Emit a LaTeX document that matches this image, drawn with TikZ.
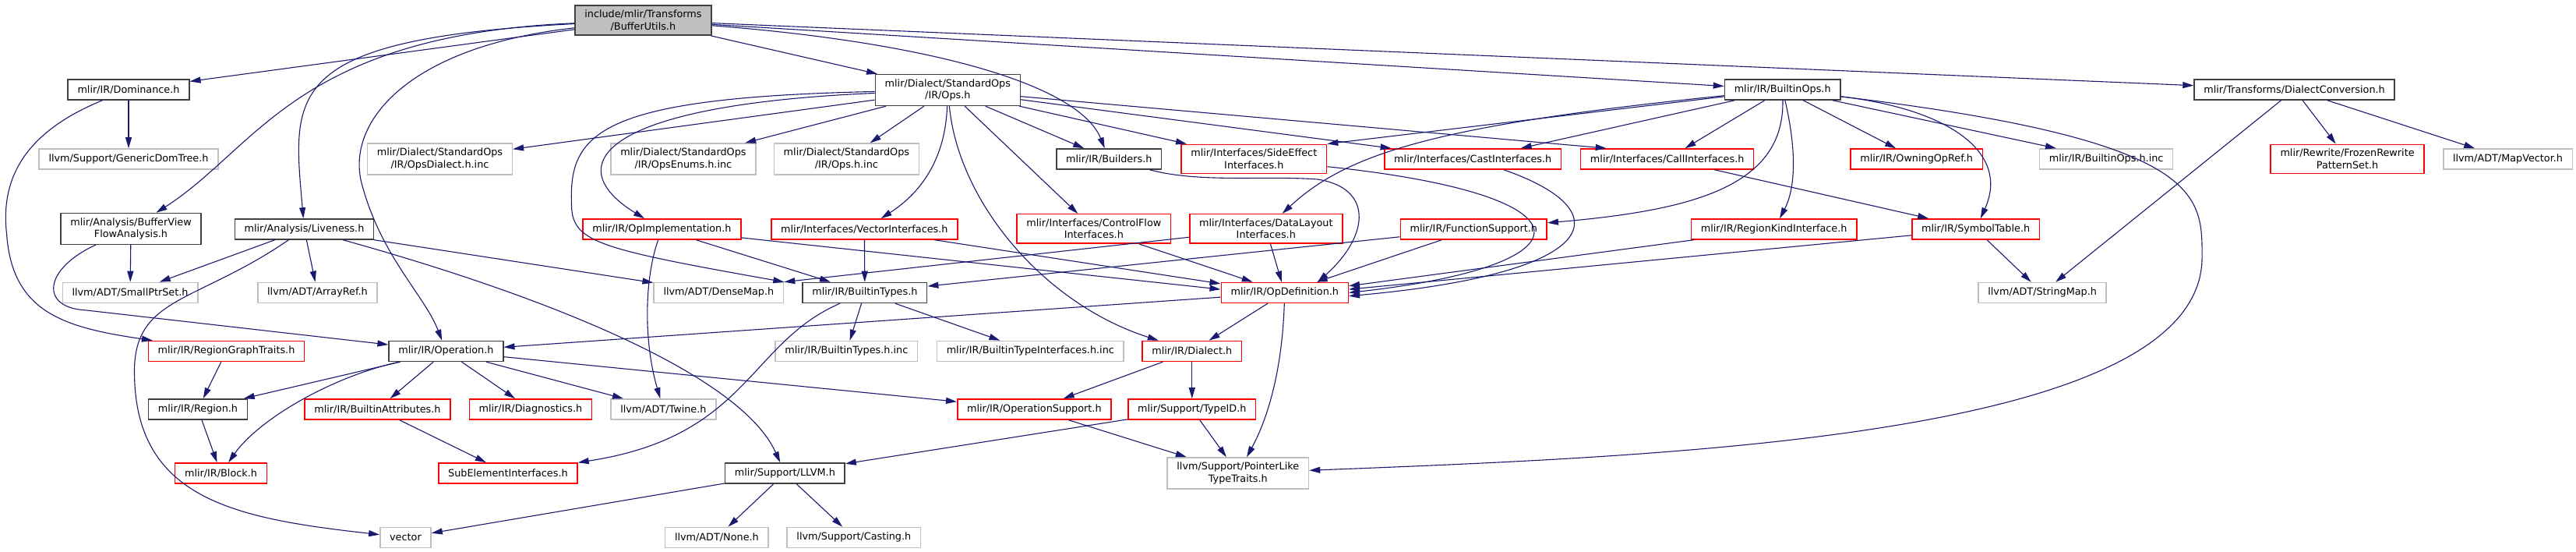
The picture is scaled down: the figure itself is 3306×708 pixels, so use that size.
\documentclass[tikz,border=0pt]{standalone}
\usepackage{fontspec}
\setmainfont{DejaVu Sans}
\usepackage{tikz}
\usetikzlibrary{arrows.meta}
\definecolor{edgeblue}{RGB}{25,25,112}
\definecolor{rootgray}{RGB}{191,191,191}
\definecolor{lightframe}{RGB}{191,191,191}
\definecolor{darkframe}{RGB}{64,64,64}

\begin{document}
\begin{tikzpicture}[x=1pt, y=-1pt,
  every node/.style={font=\fontsize{12.8}{15.5}\selectfont},
  hdr/.style={draw, rectangle, fill=white, align=center, inner xsep=12.3pt, inner ysep=6pt, minimum height=26pt, line width=1.5pt},
  hdrroot/.style={hdr, fill=rootgray, draw=darkframe},
  hdrblack/.style={hdr, draw=darkframe},
  hdrred/.style={hdr, draw=red},
  hdrgray/.style={hdr, draw=lightframe},
  conn/.style={-{Triangle[length=14pt, width=8pt]}, draw=edgeblue, line width=1.1pt}
]
\fill[white] (0,0) rectangle (3306,708);

% Root
\node[hdrroot] (bufutils) at (825,26) {include/mlir/Transforms\\/BufferUtils.h};

% Rank 1
\node[hdrblack] (dominance) at (164.5,115) {mlir/IR/Dominance.h};
\node[hdrblack] (stdops) at (1216,115.5) {mlir/Dialect/StandardOps\\/IR/Ops.h};
\node[hdrblack] (builtinops) at (2287.5,115) {mlir/IR/BuiltinOps.h};
\node[hdrblack] (dialconv) at (2944.5,115) {mlir/Transforms/DialectConversion.h};

% Rank 2
\node[hdrgray] (domtree) at (164.5,204) {llvm/Support/GenericDomTree.h};
\node[hdrgray] (opsdialect) at (564,204) {mlir/Dialect/StandardOps\\/IR/OpsDialect.h.inc};
\node[hdrgray] (opsenums) at (876.5,204) {mlir/Dialect/StandardOps\\/IR/OpsEnums.h.inc};
\node[hdrgray] (opsinc) at (1086,204) {mlir/Dialect/StandardOps\\/IR/Ops.h.inc};
\node[hdrblack] (builders) at (1423,204) {mlir/IR/Builders.h};
\node[hdrred] (sideeffect) at (1609,204) {mlir/Interfaces/SideEffect\\Interfaces.h};
\node[hdrred] (castif) at (1890,204) {mlir/Interfaces/CastInterfaces.h};
\node[hdrred] (callif) at (2139.5,204) {mlir/Interfaces/CallInterfaces.h};
\node[hdrred] (owningref) at (2459.5,204) {mlir/IR/OwningOpRef.h};
\node[hdrgray] (builtinopsinc) at (2703,204) {mlir/IR/BuiltinOps.h.inc};
\node[hdrred] (frozen) at (3012.5,204) {mlir/Rewrite/FrozenRewrite\\PatternSet.h};
\node[hdrgray] (mapvector) at (3218.5,204) {llvm/ADT/MapVector.h};

% Rank 3
\node[hdrblack] (bvfa) at (167.5,293.5) {mlir/Analysis/BufferView\\FlowAnalysis.h};
\node[hdrblack] (liveness) at (390,294) {mlir/Analysis/Liveness.h};
\node[hdrred] (opimpl) at (849,294) {mlir/IR/OpImplementation.h};
\node[hdrred] (vectorif) at (1109,294) {mlir/Interfaces/VectorInterfaces.h};
\node[hdrred] (ctrlflow) at (1403.5,293.5) {mlir/Interfaces/ControlFlow\\Interfaces.h};
\node[hdrred] (datalayout) at (1624.5,293.5) {mlir/Interfaces/DataLayout\\Interfaces.h};
\node[hdrred] (funcsupp) at (1891,294) {mlir/IR/FunctionSupport.h};
\node[hdrred] (regionkind) at (2276.5,294) {mlir/IR/RegionKindInterface.h};
\node[hdrred] (symtable) at (2535.5,294) {mlir/IR/SymbolTable.h};

% Rank 4
\node[hdrgray] (smallptrset) at (166.5,375.5) {llvm/ADT/SmallPtrSet.h};
\node[hdrgray] (arrayref) at (407,375.5) {llvm/ADT/ArrayRef.h};
\node[hdrgray] (densemap) at (922,375.5) {llvm/ADT/DenseMap.h};
\node[hdrblack] (builtintypes) at (1109.5,375.5) {mlir/IR/BuiltinTypes.h};
\node[hdrred] (opdef) at (1648.5,375.5) {mlir/IR/OpDefinition.h};
\node[hdrgray] (stringmap) at (2621,375.5) {llvm/ADT/StringMap.h};

% Rank 5
\node[hdrred] (rgtraits) at (290,450.5) {mlir/IR/RegionGraphTraits.h};
\node[hdrblack] (operation) at (572,450.5) {mlir/IR/Operation.h};
\node[hdrgray] (btypesinc) at (1086,450.5) {mlir/IR/BuiltinTypes.h.inc};
\node[hdrgray] (btifaceinc) at (1322,450.5) {mlir/IR/BuiltinTypeInterfaces.h.inc};
\node[hdrred] (dialect) at (1529.5,450.5) {mlir/IR/Dialect.h};

% Rank 6
\node[hdrblack] (region) at (253.5,525) {mlir/IR/Region.h};
\node[hdrred] (battrs) at (484,525) {mlir/IR/BuiltinAttributes.h};
\node[hdrred] (diags) at (680.5,525) {mlir/IR/Diagnostics.h};
\node[hdrgray] (twine) at (851,525) {llvm/ADT/Twine.h};
\node[hdrred] (opsupport) at (1327,525) {mlir/IR/OperationSupport.h};
\node[hdrred] (typeid) at (1529.5,525) {mlir/Support/TypeID.h};

% Rank 7
\node[hdrred] (block) at (283,607) {mlir/IR/Block.h};
\node[hdrred] (subelem) at (651.5,607) {SubElementInterfaces.h};
\node[hdrblack] (llvmh) at (1007,607) {mlir/Support/LLVM.h};
\node[hdrgray] (pointerlike) at (1588.5,607) {llvm/Support/PointerLike\\TypeTraits.h};

% Rank 8
\node[hdrgray] (vec) at (520,689.5) {vector};
\node[hdrgray] (noneh) at (919.5,689.5) {llvm/ADT/None.h};
\node[hdrgray] (casting) at (1095.5,689.5) {llvm/Support/Casting.h};

% BufferUtils.h
\draw[conn] (bufutils) -- (dominance);
\draw[conn] (bufutils) .. controls (380,45) and (330,190) .. (bvfa);
\draw[conn] (bufutils) .. controls (360,50) and (375,120) .. (liveness);
\draw[conn] (bufutils) .. controls (520,60) and (440,160) .. (465,240) .. controls (490,330) and (545,380) .. (operation);
\draw[conn] (bufutils) -- (stdops);
\draw[conn] (bufutils) .. controls (1200,55) and (1385,110) .. (builders);
\draw[conn] (bufutils) -- (builtinops);
\draw[conn] (bufutils) -- (dialconv);

% Dominance.h, BufferViewFlowAnalysis.h, Liveness.h
\draw[conn] (dominance) -- (domtree);
\draw[conn] (dominance) .. controls (30,170) and (0,230) .. (8,300) .. controls (15,400) and (80,420) .. (rgtraits);
\draw[conn] (bvfa) -- (smallptrset);
\draw[conn] (bvfa) .. controls (55,345) and (50,395) .. (110,398) -- (operation);
\draw[conn] (liveness) -- (smallptrset);
\draw[conn] (liveness) -- (arrayref);
\draw[conn] (liveness) -- (densemap);
\draw[conn] (liveness) .. controls (250,390) and (170,380) .. (172,480) .. controls (174,640) and (300,665) .. (vec);
\draw[conn] (liveness) .. controls (700,380) and (950,480) .. (llvmh);

% StandardOps/IR/Ops.h
\draw[conn] (stdops) -- (opsdialect);
\draw[conn] (stdops) -- (opsenums);
\draw[conn] (stdops) -- (opsinc);
\draw[conn] (stdops) .. controls (760,135) and (720,215) .. (opimpl);
\draw[conn] (stdops) .. controls (770,125) and (730,170) .. (733,260) .. controls (733,310) and (760,318) .. (densemap.north east);
\draw[conn] (stdops) .. controls (1213,200) and (1185,245) .. (vectorif);
\draw[conn] (stdops) .. controls (1230,260) and (1340,390) .. (dialect);
\draw[conn] (stdops) -- (ctrlflow);
\draw[conn] (stdops) -- (builders);
\draw[conn] (stdops) -- (sideeffect);
\draw[conn] (stdops) -- (castif);
\draw[conn] (stdops) -- (callif.170);

% BuiltinOps.h
\draw[conn] (builtinops) -- (sideeffect.north east);
\draw[conn] (builtinops) .. controls (1850,160) and (1730,195) .. (datalayout);
\draw[conn] (builtinops) -- (castif);
\draw[conn] (builtinops) -- (callif);
\draw[conn] (builtinops) -- (owningref);
\draw[conn] (builtinops) -- (builtinopsinc);
\draw[conn] (builtinops) .. controls (2500,140) and (2580,195) .. (symtable);
\draw[conn] (builtinops) .. controls (2830,180) and (2826,250) .. (2826,330) .. controls (2826,560) and (2150,585) .. (pointerlike);
\draw[conn] (builtinops) .. controls (2290,240) and (2170,270) .. (funcsupp);
\draw[conn] (builtinops) .. controls (2305,190) and (2305,240) .. (regionkind);

% DialectConversion.h
\draw[conn] (dialconv) -- (stringmap);
\draw[conn] (dialconv) -- (frozen);
\draw[conn] (dialconv) -- (mapvector);

% Interfaces
\draw[conn] (opimpl) .. controls (826,360) and (826,440) .. (twine);
\draw[conn] (opimpl) -- (builtintypes);
\draw[conn] (opimpl) -- (opdef.177);
\draw[conn] (vectorif) -- (builtintypes);
\draw[conn] (vectorif) -- (opdef.172);
\draw[conn] (ctrlflow) -- (opdef);
\draw[conn] (datalayout) -- (densemap.north east);
\draw[conn] (datalayout) -- (opdef);
\draw[conn] (funcsupp) -- (builtintypes);
\draw[conn] (funcsupp) -- (opdef);
\draw[conn] (regionkind) -- (opdef.6);
\draw[conn] (symtable) -- (opdef.3);
\draw[conn] (symtable) -- (stringmap);
\draw[conn] (callif) -- (symtable);
\draw[conn] (sideeffect) .. controls (2050,250) and (2050,340) .. (opdef.0);
\draw[conn] (castif) .. controls (2080,270) and (2060,350) .. (opdef.-3);
\draw[conn] (builders) .. controls (1540,235) and (1620,225) .. (1690,230) .. controls (1760,240) and (1760,300) .. (opdef.18);

% BuiltinTypes.h, OpDefinition.h
\draw[conn] (builtintypes) -- (btypesinc);
\draw[conn] (builtintypes) -- (btifaceinc);
\draw[conn] (builtintypes) .. controls (960,440) and (960,560) .. (subelem);
\draw[conn] (opdef) -- (operation);
\draw[conn] (opdef) -- (dialect);
\draw[conn] (opdef) .. controls (1645,480) and (1625,540) .. (pointerlike);

% Operation.h and below
\draw[conn] (rgtraits) -- (region);
\draw[conn] (operation) -- (region);
\draw[conn] (operation) .. controls (420,485) and (330,540) .. (block);
\draw[conn] (operation) -- (battrs);
\draw[conn] (operation) -- (diags);
\draw[conn] (operation) -- (twine);
\draw[conn] (operation) -- (opsupport);
\draw[conn] (region) -- (block);
\draw[conn] (battrs) -- (subelem);
\draw[conn] (dialect) -- (opsupport);
\draw[conn] (dialect) -- (typeid);
\draw[conn] (opsupport) -- (pointerlike);
\draw[conn] (typeid) -- (pointerlike);
\draw[conn] (typeid) -- (llvmh);
\draw[conn] (llvmh) -- (vec);
\draw[conn] (llvmh) -- (noneh);
\draw[conn] (llvmh) -- (casting);

\end{tikzpicture}
\end{document}
